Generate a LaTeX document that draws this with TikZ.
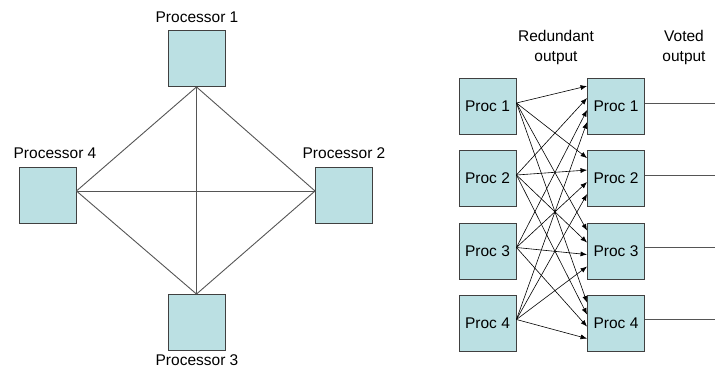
\documentclass[tikz,border=0pt]{standalone}
\usepackage{fontspec}
\setmainfont{Liberation Sans}
\usetikzlibrary{arrows.meta,calc}
\definecolor{boxfill}{HTML}{BBE0E3}
\definecolor{boxline}{HTML}{404040}
\definecolor{linkgray}{HTML}{555555}
\begin{document}
\begin{tikzpicture}[x=1pt,y=-1pt,
  procbox/.style={draw=boxline,fill=boxfill,line width=0.9pt,minimum width=57pt,
    minimum height=56pt,inner sep=0pt,font=\fontsize{15.5}{18}\selectfont},
  lbl/.style={font=\fontsize{15.5}{20}\selectfont,inner sep=0pt,align=center},
  link/.style={draw=linkgray,line width=0.9pt},
  vote/.style={-{Latex[length=6.5pt,width=5pt]},line width=0.6pt,black}]
\useasboundingbox (0,0) rectangle (715,370);

% fully connected ring of four processors
\node[procbox] (p1) at (196.5,58.5) {};
\node[procbox] (p2) at (344,195) {};
\node[procbox] (p3) at (196.5,322.5) {};
\node[procbox] (p4) at (47.5,195) {};
\node[lbl] (t1) at (197,17) {Processor 1};
\node[lbl] (t2) at (344,153) {Processor 2};
\node[lbl] (t3) at (197,360) {Processor 3};
\node[lbl] (t4) at (55,153) {Processor 4};

\coordinate (e4) at ([yshift=4pt]p4.east);
\coordinate (w2) at ([yshift=4pt]p2.west);
\draw[link] (p1.south) -- (p3.north);
\draw[link] (e4) -- (w2);
\draw[link] (p1.south) -- (e4);
\draw[link] (p1.south) -- (w2);
\draw[link] (p3.north) -- (e4);
\draw[link] (p3.north) -- (w2);

% redundant processors feeding the voters
\foreach \i/\y in {1/106.5,2/178.5,3/251,4/323}{
  \node[procbox] (a\i) at (487.5,\y) {Proc \i};
  \node[procbox] (b\i) at (616,\y) {Proc \i};
  \coordinate (o\i) at (715,\y-3.5);
  \draw[link] ([yshift=3.5pt]b\i.east) -- (o\i);
}
\foreach \i/\o in {1/8,2/20,3/32,4/44}{
  \foreach \j in {1,...,4}{
    \draw[vote] ([yshift=3.5pt]a\i.east) -- ($(b\j.north west)+(0,\o)$);
  }
}

\node[lbl] (red) at (556,47) {Redundant\\output};
\node[lbl] (vot) at (684,47) {Voted\\output};
\end{tikzpicture}
\end{document}
